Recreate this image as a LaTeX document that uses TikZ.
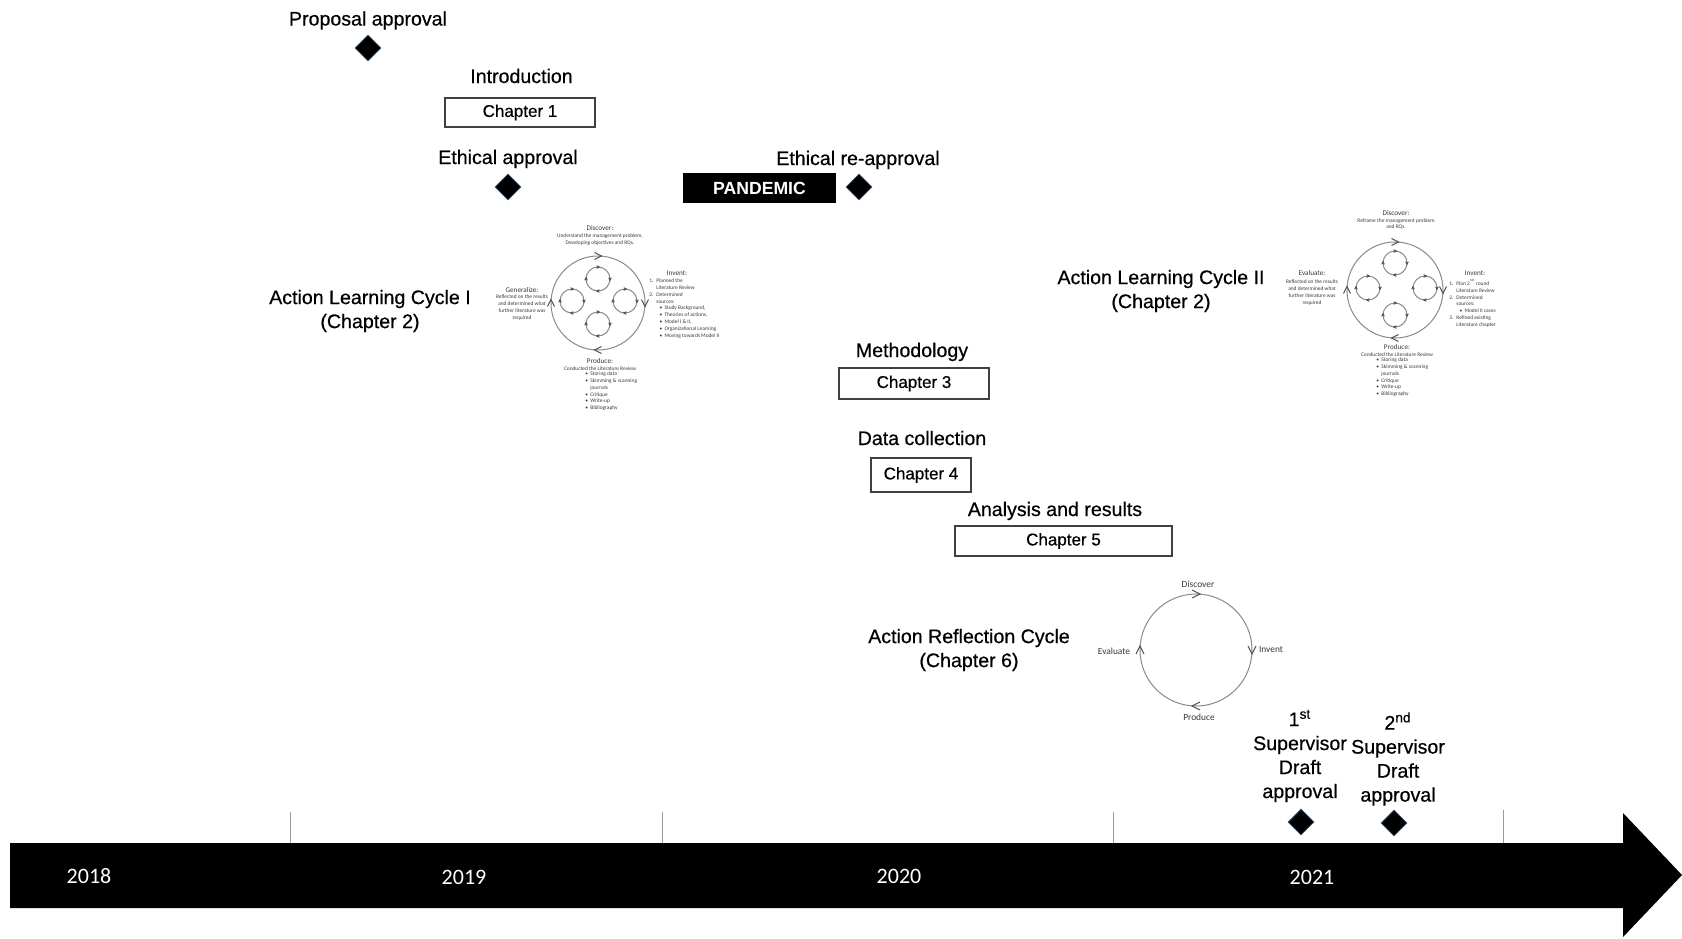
\documentclass[tikz,border=0pt]{standalone}
\usepackage{fontspec}
\setmainfont{Liberation Sans}
\newfontfamily\headfont{Liberation Sans}[FakeBold=0.5]
\newfontfamily\cyclefont{Carlito}
\usetikzlibrary{shapes.geometric}

\definecolor{ringgray}{HTML}{8A8A8A}
\definecolor{chevgray}{HTML}{505050}
\definecolor{tickgray}{HTML}{9A9A9A}
\definecolor{diaedge}{HTML}{3D5875}
\definecolor{cycletext}{HTML}{3A3A3A}

% list helpers for the small cycle annotations
\newcommand\cynum[1]{\makebox[1.3em][l]{#1}}
\newcommand\cyind{\hspace*{1.3em}}
\newcommand\cybul{\hspace*{1.9em}\makebox[0.9em][l]{\textbullet}}
\newcommand\cybulx{\hspace*{0.2em}\makebox[0.9em][l]{\textbullet}}
\newcommand\cybuli{\hspace*{1.1em}}

\tikzset{
  heading/.style={font=\headfont\fontsize{9.8}{12}\selectfont, align=center, inner sep=0pt},
  chapbox/.style={draw=black!75, line width=0.75pt, inner sep=0pt,
    font=\headfont\fontsize{8.5}{10}\selectfont},
  pandemicbox/.style={fill=black, inner sep=0pt, text=white,
    font=\fontsize{8.8}{10}\selectfont\bfseries, minimum width=76.5pt, minimum height=15pt},
  milestone/.style={diamond, fill=black, draw=diaedge, line width=0.4pt, inner sep=0pt,
    minimum width=13pt, minimum height=13pt},
  yeartext/.style={text=white, font=\cyclefont\fontsize{11}{13}\selectfont, inner sep=0pt, anchor=base},
  tickline/.style={draw=tickgray, line width=0.5pt},
  ringline/.style={draw=ringgray, line width=0.5pt},
  chevline/.style={draw=chevgray, line width=0.5pt, line join=miter},
  cyhead/.style={font=\cyclefont\fontsize{3.6}{4.3}\selectfont, text=cycletext, inner sep=0pt},
  cytext/.style={font=\cyclefont\fontsize{2.7}{3.4}\selectfont, text=cycletext, inner sep=0pt, align=center},
  cylist/.style={cytext, align=left, anchor=north west},
  cylabel/.style={font=\cyclefont\fontsize{4.7}{5.6}\selectfont, text=cycletext, inner sep=0pt},
  % circle with four clockwise chevrons: radius, chevron half-size
  pics/ring/.style n args={2}{code={
    \draw[ringline] (0,0) circle[radius=#1];
    \draw[chevline] (-#2,-#1-#2) -- (#2,-#1) -- (-#2,-#1+#2);
    \draw[chevline] (#1-#2,-#2) -- (#1,#2) -- (#1+#2,-#2);
    \draw[chevline] (#2,#1-#2) -- (-#2,#1) -- (#2,#1+#2);
    \draw[chevline] (-#1-#2,#2) -- (-#1,-#2) -- (-#1+#2,#2);
  }},
}

\begin{document}
\begin{tikzpicture}[x=0.5pt, y=-0.5pt]
\useasboundingbox (0,0) rectangle (1682,938);
\fill[white] (0,0) rectangle (1682,938);

% ---------- milestones and chapters ----------
\node[heading, anchor=base] (propT) at (368,25.5) {Proposal approval};
\node[milestone] (propD) at (368,48) {};

\node[heading, anchor=base] (introT) at (521.5,83) {Introduction};
\node[chapbox, minimum width=75pt, minimum height=14.5pt] (ch1) at (520,112.5) {Chapter 1};

\node[heading, anchor=base] (ethT) at (508,164) {Ethical approval};
\node[milestone] (ethD) at (508,187) {};

\node[pandemicbox] (pand) at (759.5,188) {PANDEMIC};
\node[heading, anchor=base] (rethT) at (858,165) {Ethical re-approval};
\node[milestone] (rethD) at (859,187) {};

\node[heading] (alc1) at (370,311) {Action Learning Cycle I\\(Chapter 2)};
\node[heading] (alc2) at (1161,291) {Action Learning Cycle II\\(Chapter 2)};

\node[heading, anchor=base] (methT) at (912,357) {Methodology};
\node[chapbox, minimum width=75pt, minimum height=15.5pt] (ch3) at (914,383.5) {Chapter 3};

\node[heading, anchor=base] (dataT) at (922,445) {Data collection};
\node[chapbox, minimum width=50pt, minimum height=17pt] (ch4) at (921,475) {Chapter 4};

\node[heading, anchor=base] (anaT) at (1055,516) {Analysis and results};
\node[chapbox, minimum width=108.5pt, minimum height=15pt] (ch5) at (1063.5,541) {Chapter 5};

\node[heading] (arc) at (969,650) {Action Reflection Cycle\\(Chapter 6)};

\node[heading] (sup1T) at (1300,756) {1\textsuperscript{st}\\Supervisor\\Draft\\approval};
\node[milestone] (sup1D) at (1301,822) {};
\node[heading] (sup2T) at (1398,759) {2\textsuperscript{nd}\\Supervisor\\Draft\\approval};
\node[milestone] (sup2D) at (1394,823) {};

% ---------- action learning cycle I ----------
\pic (c1) at (598,303) {ring={47}{3.5}};
\pic (c1a) at (598,279) {ring={12}{1.3}};
\pic (c1b) at (572,301) {ring={12}{1.3}};
\pic (c1c) at (625,301) {ring={12}{1.3}};
\pic (c1d) at (598,324) {ring={12}{1.3}};

\node[cyhead] (c1discH) at (600,228) {Discover:};
\node[cytext] (c1discB) at (600,239.5) {Understand the management problem,\\Developing objectives and RQs.};
\node[cyhead] (c1genH) at (522,290) {Generalize:};
\node[cytext] (c1genB) at (522,307.5) {Reflected on the results\\and determined what\\further literature was\\required};
\node[cyhead] (c1invH) at (677,273) {Invent:};
\node[cylist] (c1invB) at (649,278.5) {\cynum{1.}Planned the\\\cyind Literature Review\\\cynum{2.}Determined\\\cyind sources:\\\cybul Study Background,\\\cybul Theories of actions,\\\cybul Model I \& II,\\\cybul Organizational Learning\\\cybul Moving towards Model II};
\node[cyhead] (c1proH) at (600,361) {Produce:};
\node[cytext] (c1proB) at (600,368.5) {Conducted the Literature Review};
\node[cylist] (c1proL) at (584,371.5) {\cybulx Storing data\\\cybulx Skimming \& scanning\\\cybuli journals\\\cybulx Critique\\\cybulx Write-up\\\cybulx Bibliography};

% ---------- action learning cycle II ----------
\pic (c2) at (1395,290) {ring={48}{3.5}};
\pic (c2a) at (1395,263) {ring={12}{1.3}};
\pic (c2b) at (1368,288) {ring={12}{1.3}};
\pic (c2c) at (1425,288) {ring={12}{1.3}};
\pic (c2d) at (1395,315) {ring={12}{1.3}};

\node[cyhead] (c2discH) at (1396,213) {Discover:};
\node[cytext] (c2discB) at (1396,224) {Reframe the management problem\\and RQs.};
\node[cyhead] (c2evaH) at (1312,273) {Evaluate:};
\node[cytext] (c2evaB) at (1312,292.5) {Reflected on the results\\and determined what\\further literature was\\required};
\node[cyhead] (c2invH) at (1475,273) {Invent:};
\node[cylist] (c2invB) at (1449,278.5) {\cynum{1.}Plan 2\textsuperscript{nd} round\\\cyind Literature Review\\\cynum{2.}Determined\\\cyind sources:\\\cybul Model II cases\\\cynum{3.}Refined existing\\\cyind Literature chapter};
\node[cyhead] (c2proH) at (1397,347) {Produce:};
\node[cytext] (c2proB) at (1397,354.5) {Conducted the Literature Review};
\node[cylist] (c2proL) at (1375,357.5) {\cybulx Storing data\\\cybulx Skimming \& scanning\\\cybuli journals\\\cybulx Critique\\\cybulx Write-up\\\cybulx Bibliography};

% ---------- action reflection cycle ----------
\pic (c3) at (1196,650) {ring={56}{4}};
\node[cylabel] (c3disc) at (1198,584) {Discover};
\node[cylabel] (c3inv) at (1271,650) {Invent};
\node[cylabel] (c3pro) at (1199,717) {Produce};
\node[cylabel] (c3eva) at (1114,651) {Evaluate};

% ---------- timeline ----------
\draw[tickline] (290,812) -- (290,850);
\draw[tickline] (662,812) -- (662,850);
\draw[tickline] (1113,812) -- (1113,850);
\draw[tickline] (1503,810) -- (1503,848);

\fill[black] (10,843) -- (1623,843) -- (1623,813) -- (1682,875)
  -- (1623,937) -- (1623,908) -- (10,908) -- cycle;

\node[yeartext] (y18) at (89,883) {2018};
\node[yeartext] (y19) at (464,884) {2019};
\node[yeartext] (y20) at (899,883) {2020};
\node[yeartext] (y21) at (1312,884) {2021};
\end{tikzpicture}
\end{document}
